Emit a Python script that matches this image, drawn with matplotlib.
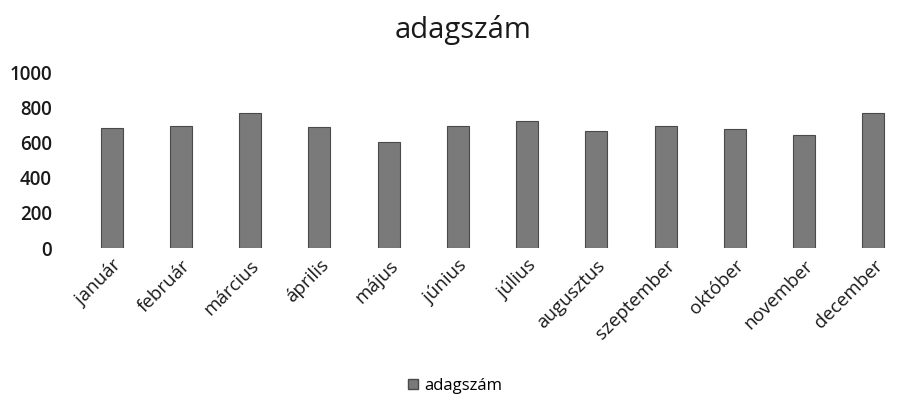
import matplotlib.pyplot as plt
from matplotlib.patches import Patch

plt.rcParams['font.family'] = ['Open Sans', 'DejaVu Sans']

honapok = ['január', 'február', 'március', 'április', 'május', 'június',
           'július', 'augusztus', 'szeptember', 'október', 'november', 'december']
adagszam = [680, 695, 765, 690, 600, 695, 720, 665, 695, 675, 640, 765]
yticks = [0, 200, 400, 600, 800, 1000]

fig = plt.figure(figsize=(9.01, 4.05), dpi=100)
ax = fig.add_axes([77 / 901, 157 / 405, 831 / 901, 176 / 405])

ax.bar(range(len(honapok)), adagszam, width=0.32, color='#7a7a7a',
       edgecolor='#4a4a4a', linewidth=0.8)
ax.axhline(0, color='#c8c8c8', linewidth=0.8, linestyle=(0, (1, 4)))

ax.set_xlim(-0.5, len(honapok) - 0.5)
ax.set_ylim(0, 1000)
ax.set_yticks(yticks)
ax.set_yticklabels([str(v) for v in yticks], fontsize=13.5, fontweight='semibold', color='#1a1a1a')
ax.set_xticks(range(len(honapok)))
ax.set_xticklabels(honapok, rotation=45, ha='right', rotation_mode='anchor',
                   fontsize=13.5, color='#1a1a1a')
ax.tick_params(axis='both', length=0)
ax.tick_params(axis='y', pad=18)
ax.tick_params(axis='x', pad=6)
for s in ax.spines.values():
    s.set_visible(False)

fig.text(463 / 901, 1 - 30 / 405, 'adagszám', ha='center', va='center',
         fontsize=21, color='#1a1a1a')

fig.legend(handles=[Patch(facecolor='#7a7a7a', edgecolor='#4a4a4a', label='adagszám')],
           loc='center', bbox_to_anchor=(455 / 901, 1 - 386 / 405), frameon=False,
           fontsize=12, handlelength=0.6, handleheight=0.6, handletextpad=0.4)

fig.savefig('out.png', dpi=100, facecolor='white')
